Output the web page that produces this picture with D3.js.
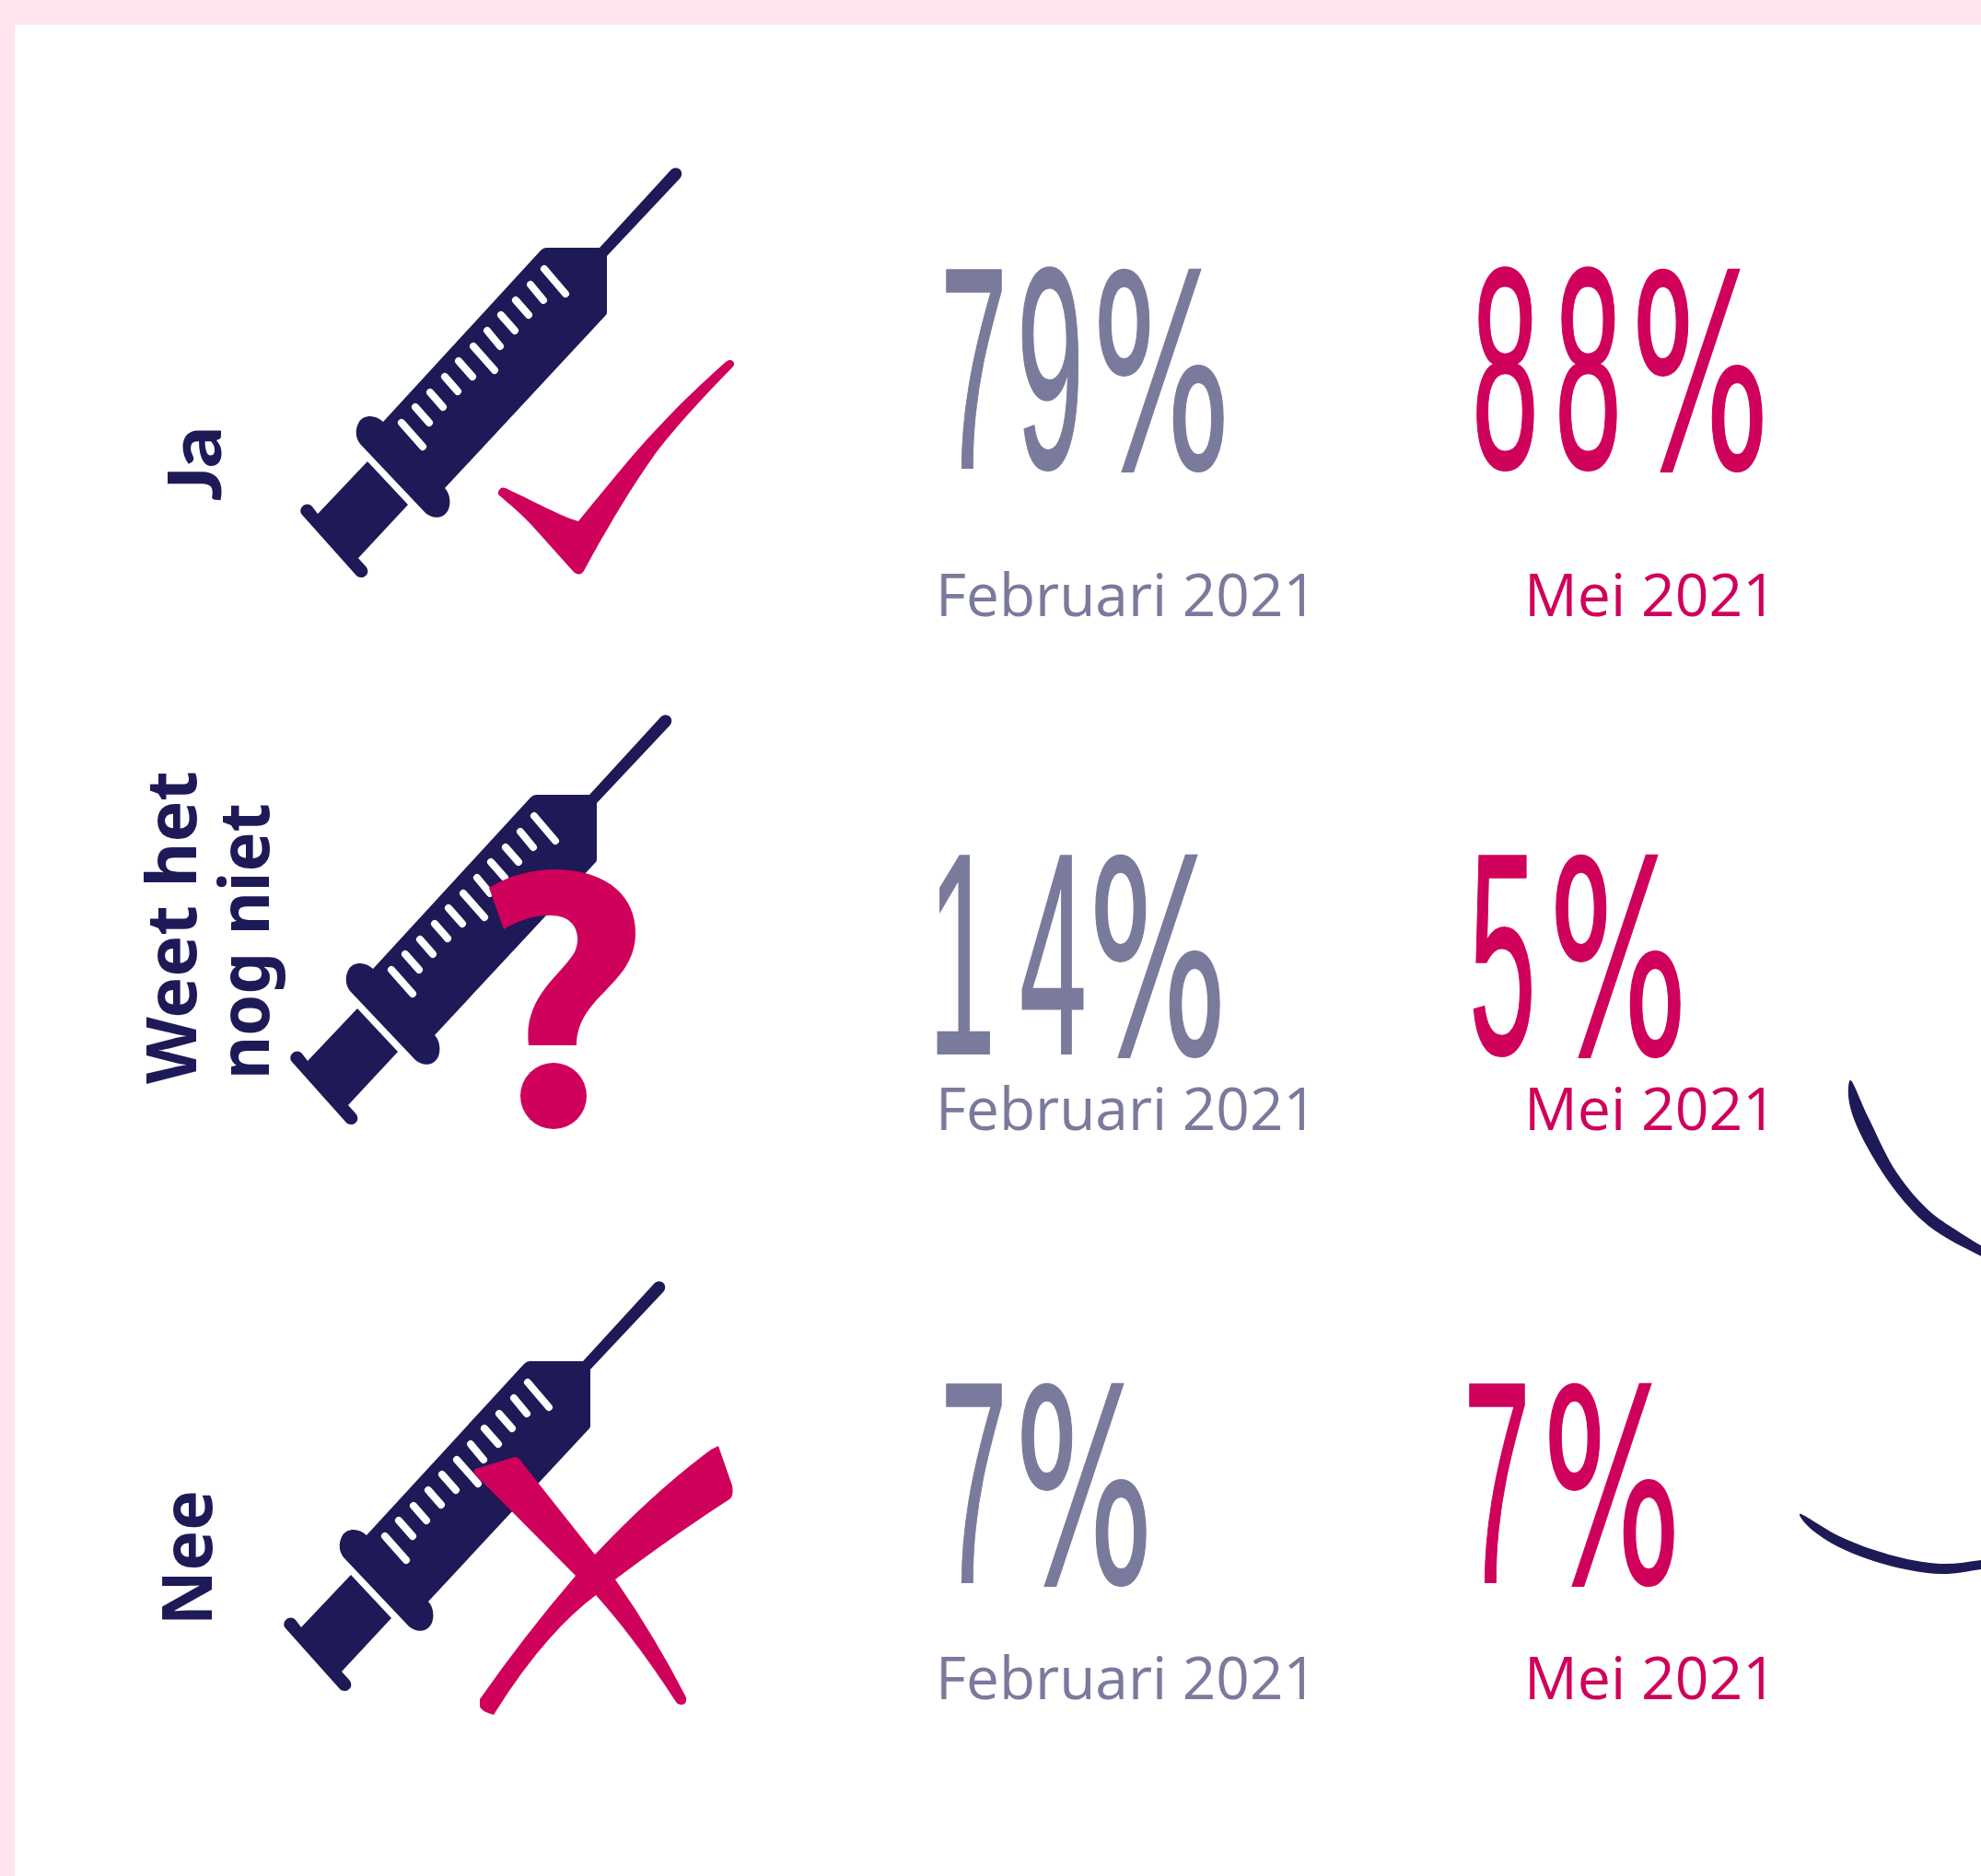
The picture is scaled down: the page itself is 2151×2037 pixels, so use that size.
<!DOCTYPE html>
<html>
<head>
<meta charset="utf-8">
<script src="https://cdn.jsdelivr.net/npm/d3@7"></script>
<style>
    html, body { margin: 0; padding: 0; background: #fff; }
    svg { display: block; }
</style>
</head>
<body>
<div id="wrapper"></div>
<script>
const categories = ["Ja", "Weet het nog niet", "Nee"];
const periods = ["Februari 2021", "Mei 2021"];
const februari = [79, 14, 7];
const mei = [88, 5, 7];

const navy = "#1e1a57";
const pink = "#d0015b";
const grey = "#7a7a9c";
const band = "#ffe4ee";

const dimension = { width: 2151, height: 2037 };

// rows are not evenly spaced in the original
const numberBottom = d3.scaleOrdinal(categories, [508, 1144, 1718]);
const periodBaseline = d3.scaleOrdinal(categories, [669, 1227, 1845]);
const iconShift = d3.scaleOrdinal(categories, [[0, 0], [-11, 594], [-18, 1209]]);
const periodColour = d3.scaleOrdinal(periods, [grey, pink]);

// left edge of each glyph of the hand-drawn looking percentages, per column and row
const glyphX = [
    [[1021, 1104, 1185], [1008, 1107, 1181], [1021, 1101]],
    [[1598, 1688, 1770], [1595, 1681], [1589, 1674]]
];
const squeeze = 0.42;
const percentW = 152;
const periodX = [1016, 1655];
const periodW = [414, 274];

const svg = d3.select("#wrapper").append("svg")
    .attr("width", dimension.width)
    .attr("height", dimension.height);

svg.append("rect").attr("width", dimension.width).attr("height", dimension.height).attr("fill", band);
svg.append("rect").attr("x", 16).attr("y", 27)
    .attr("width", dimension.width - 16).attr("height", dimension.height - 27).attr("fill", "#fff");

// syringe, row 1 coordinates
const barrel = "M593 269 Q590 269 587 272 L416 458 C408 450 395 450 390 458 C385 466 386 476 391 482 L462 557 C470 564 482 564 487 553 C490 545 488 535 483 530 L658 342 Q659 341 659 339 L659 278 L738 194 C745 186 734 178 728 185 L651 269 Z";
const plunger = "M399 501 L443 548 L389 606 L398 616 C403 625 392 630 387 625 L328 559 C322 552 333 543 339 550 L345 558 Z";
const scaleTicks = [
    [591, 292, 614, 319], [576, 309, 590, 326], [560, 326, 574, 342], [544, 342, 559, 359],
    [529, 359, 543, 376], [514, 376, 537, 402], [498, 392, 513, 409], [483, 409, 497, 425],
    [467, 426, 481, 442], [451, 442, 466, 459], [436, 459, 459, 485]
];

const icons = svg.selectAll(".syringe").data(categories).join("g")
    .attr("class", "syringe")
    .attr("transform", d => `translate(${iconShift(d)[0]},${iconShift(d)[1]})`);
icons.append("path").attr("d", barrel + plunger).attr("fill", navy);
icons.selectAll("line").data(scaleTicks).join("line")
    .attr("x1", d => d[0]).attr("y1", d => d[1])
    .attr("x2", d => d[2]).attr("y2", d => d[3])
    .attr("stroke", "#fff").attr("stroke-width", 8).attr("stroke-linecap", "round");

// answer marks
svg.append("path").attr("fill", pink)
    .attr("d", "M541 534 C543 529 546 529 549 530 C585 547 608 560 628 566 C670 515 710 462 788 393 C793 388 800 393 796 398 C760 435 735 462 712 492 C685 530 660 572 635 618 C632 625 626 625 622 620 L578 571 C565 557 555 549 541 537 Z");
svg.append("path").attr("fill", pink)
    .attr("d", "M531 964 Q563 944 606 944 C662 946 690 975 690 1013 C690 1070 627 1080 626 1135 L574 1135 C568 1085 605 1062 622 1037 C632 1022 629 994 598 994 C577 994 563 1000 547 1009 Z");
svg.append("circle").attr("cx", 601).attr("cy", 1190).attr("r", 36).attr("fill", pink);
svg.append("path").attr("fill", pink)
    .attr("d", "M516 1601 Q513 1598 516 1595 L559 1582 Q563 1582 566 1587 L646 1688 Q710 1620 772 1574 L780 1570 L795 1613 Q797 1625 792 1628 Q730 1668 668 1715 Q710 1775 745 1843 Q746 1851 740 1851 Q736 1851 734 1848 Q690 1780 647 1732 Q590 1775 536 1862 Q522 1858 521 1853 L521 1845 Q570 1775 625 1711 Z");

// brush strokes at the right edge, ends run past the page
const strokeA = [[2009, 1173], [2028, 1212], [2060, 1274], [2095, 1315], [2123, 1335], [2152, 1353], [2190, 1373], [2190, 1385], [2151, 1364], [2115, 1345], [2087, 1325], [2050, 1282], [2015, 1220], [2007, 1190]];
const strokeB = [[1954, 1644], [1997, 1668], [2051, 1688], [2107, 1698], [2151, 1694], [2190, 1688], [2190, 1698], [2151, 1704], [2107, 1709], [2048, 1699], [1993, 1678], [1962, 1656]];
const strokeLine = d3.line().curve(d3.curveCatmullRomClosed);
svg.selectAll(".brush").data([strokeA, strokeB]).join("path")
    .attr("class", "brush")
    .attr("d", strokeLine)
    .attr("fill", navy);

// question labels, rotated
const labelLines = [
    { text: "Ja", x: 240, y: 544, len: 81, font: "Lato, sans-serif", size: 80, weight: 900 },
    { text: "Weet het", x: 213, y: 1177, len: 340, font: "'Noto Sans', sans-serif", size: 76, weight: 700 },
    { text: "nog niet", x: 292, y: 1172, len: 300, font: "'Noto Sans', sans-serif", size: 76, weight: 700 },
    { text: "Nee", x: 230, y: 1765, len: 147, font: "'Noto Sans', sans-serif", size: 76, weight: 700 }
];
svg.selectAll(".label").data(labelLines).join("text")
    .attr("class", "label")
    .attr("transform", d => `translate(${d.x},${d.y}) rotate(-90)`)
    .attr("textLength", d => d.len)
    .attr("lengthAdjust", "spacingAndGlyphs")
    .attr("font-family", d => d.font)
    .attr("font-weight", d => d.weight)
    .attr("font-size", d => d.size)
    .attr("fill", navy)
    .text(d => d.text);

// percentages and period labels
[februari, mei].forEach((values, col) => {
    const period = periods[col];
    const column = svg.append("g");
    const valueText = column.selectAll(".value").data(values).join("text")
        .attr("class", "value")
        .attr("transform", (d, i) => `translate(0,${numberBottom(categories[i])}) scale(${squeeze},1)`)
        .attr("font-family", "'Liberation Sans Narrow', 'Liberation Sans', sans-serif")
        .attr("font-size", 312)
        .attr("fill", periodColour(period))
        .attr("stroke", periodColour(period))
        .attr("stroke-width", 2);
    valueText.selectAll("tspan")
        .data((d, i) => (d + "%").split("").map((c, k) => ({ c: c, x: glyphX[col][i][k] })))
        .join("tspan")
        .attr("x", d => d.x / squeeze)
        .attr("font-family", d => d.c === "%" ? "'DejaVu Sans', sans-serif" : null)
        .attr("font-size", d => d.c === "%" ? 290 : null)
        .attr("textLength", d => d.c === "%" ? percentW / squeeze : null)
        .attr("lengthAdjust", d => d.c === "%" ? "spacingAndGlyphs" : null)
        .text(d => d.c);
    column.selectAll(".period").data(categories).join("text")
        .attr("class", "period")
        .attr("x", periodX[col])
        .attr("y", d => periodBaseline(d))
        .attr("textLength", periodW[col])
        .attr("lengthAdjust", "spacingAndGlyphs")
        .attr("font-family", "'Open Sans', sans-serif")
        .attr("font-weight", 400)
        .attr("font-size", 64)
        .attr("fill", periodColour(period))
        .text(period);
});
</script>
</body>
</html>
